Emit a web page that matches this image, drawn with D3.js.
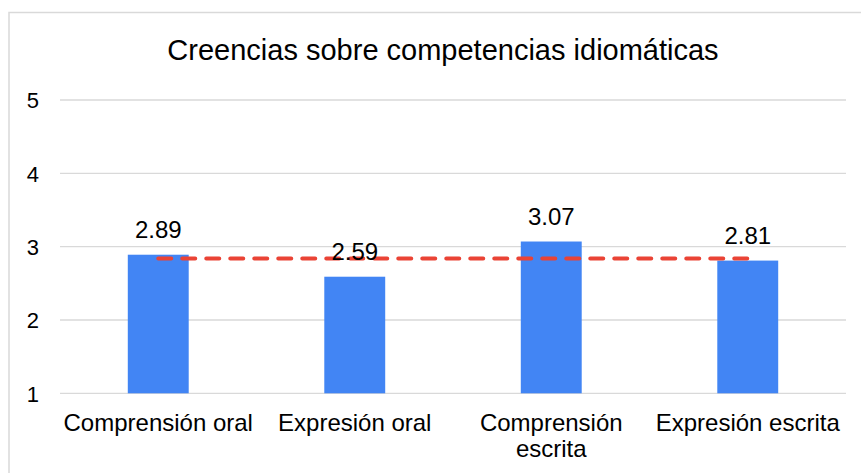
<!DOCTYPE html>
<html>
<head>
<meta charset="utf-8">
<script src="https://cdn.jsdelivr.net/npm/d3@7"></script>
<style>
  body { margin: 0; background: #fff; }
  text { font-family: "Liberation Sans", Arial, sans-serif; fill: #000; }
</style>
</head>
<body>
<script>
// data
var categories = ["Comprensión oral", "Expresión oral", "Comprensión escrita", "Expresión escrita"];
var xLabels = [["Comprensión oral"], ["Expresión oral"], ["Comprensión", "escrita"], ["Expresión escrita"]];
var values = [2.89, 2.59, 3.07, 2.81];
var yTicks = [1, 2, 3, 4, 5];
var meanValue = 2.84;
var title = "Creencias sobre competencias idiomáticas";

var width = 861, height = 473;
var plotLeft = 60, plotRight = 846, plotTop = 100, plotBottom = 393.3;

var svg = d3.select("body").append("svg")
    .attr("width", width)
    .attr("height", height);

// chart frame (top + left only)
svg.append("path")
   .attr("d", "M9,480 V12.5 H861")
   .attr("fill", "none")
   .attr("stroke", "#d9d9d9")
   .attr("stroke-width", 1.5);

var x = d3.scaleBand()
    .domain(categories)
    .range([plotLeft, plotRight])
    .paddingInner(0.69)
    .paddingOuter(0.345);

var y = d3.scaleLinear()
    .domain([1, 5])
    .range([plotBottom, plotTop]);

// gridlines
svg.append("g")
   .selectAll("line")
   .data(yTicks)
   .enter()
   .append("line")
   .attr("x1", plotLeft)
   .attr("x2", plotRight)
   .attr("y1", (d)=> y(d))
   .attr("y2", (d)=> y(d))
   .attr("stroke", "#d9d9d9")
   .attr("stroke-width", 1.3);

// y axis labels
var yAxis = d3.axisLeft(y).tickValues(yTicks).tickSize(0).tickPadding(0).tickFormat(d3.format("d"));
var gy = svg.append("g")
   .attr("transform", "translate(39,0)")
   .call(yAxis);
gy.select(".domain").remove();
gy.selectAll("text")
  .attr("font-size", "22px")
  .attr("font-family", "Liberation Sans, Arial, sans-serif")
  .attr("fill", "#000")
  .attr("dy", "0.36em");

// bars
svg.append("g")
   .selectAll("rect")
   .data(values)
   .enter()
   .append("rect")
   .attr("x", (d, i)=> x(categories[i]))
   .attr("y", (d)=> y(d))
   .attr("width", x.bandwidth())
   .attr("height", (d)=> y(1) - y(d))
   .attr("fill", "#4285f4");

// mean line
var cx = (c)=> x(c) + x.bandwidth() / 2;
svg.append("line")
   .attr("x1", cx(categories[0]))
   .attr("x2", cx(categories[categories.length - 1]))
   .attr("y1", y(meanValue))
   .attr("y2", y(meanValue))
   .attr("stroke", "#ea4335")
   .attr("stroke-width", 4)
   .attr("stroke-linecap", "round")
   .attr("stroke-dasharray", "13,11");

// value labels
svg.append("g")
   .selectAll("text")
   .data(values)
   .enter()
   .append("text")
   .attr("x", (d, i)=> cx(categories[i]))
   .attr("y", (d)=> y(d) - 17)
   .attr("text-anchor", "middle")
   .attr("font-size", "24px")
   .text((d)=> d.toFixed(2));

// category labels
var lab = svg.append("g")
   .selectAll("text")
   .data(categories)
   .enter()
   .append("text")
   .attr("x", (d)=> cx(d))
   .attr("y", 431)
   .attr("text-anchor", "middle")
   .attr("font-size", "24px");
lab.selectAll("tspan")
   .data((d, i)=> xLabels[i])
   .enter()
   .append("tspan")
   .attr("x", function() { return this.parentNode.getAttribute("x"); })
   .attr("dy", (d, i)=> i === 0 ? 0 : 26)
   .text((d)=> d);

// title
svg.append("text")
   .attr("x", 443)
   .attr("y", 60)
   .attr("text-anchor", "middle")
   .attr("font-size", "29px")
   .text(title);
</script>
</body>
</html>
